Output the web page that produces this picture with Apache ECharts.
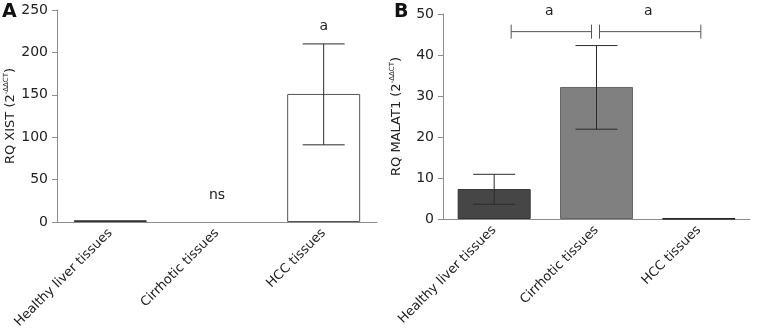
<!DOCTYPE html>
<html>
<head>
<meta charset="utf-8">
<script src="https://cdn.jsdelivr.net/npm/echarts@6/dist/echarts.min.js"></script>
<style>
  html, body { margin: 0; padding: 0; background: #fff; }
  #main { width: 757px; height: 332px; }
</style>
</head>
<body>
<div id="main"></div>
<script>
// 数据
var categories = ['Healthy liver tissues', 'Cirrhotic tissues', 'HCC tissues'];

// 面板 A: XIST
var xistMean = [2, 0, 151];
var xistLow = [2, 0, 91];
var xistHigh = [2, 0, 210];
var xistMarks = [[1, 'ns', 32], [2, 'a', 231]];
var xistTicks = [0, 50, 100, 150, 200, 250];

// 面板 B: MALAT1
var malatMean = [7.3, 32.2, 0.1];
var malatLow = [3.6, 21.9, 0.1];
var malatHigh = [10.9, 42.3, 0.1];
var malatBrackets = [[0, 1, 45.7, 'a'], [1, 2, 45.7, 'a']];
var malatTicks = [0, 10, 20, 30, 40, 50];

var FONT = 'DejaVu Sans';
var TXT = '#222';
var AXIS = '#8c8c8c';

var myChart = echarts.init(document.getElementById('main'));

function errData(low, high) {
    return low.map(function (v, i) { return [i, v, high[i]]; });
}

function errRender(params, api) {
    var lo = api.coord([api.value(0), api.value(1)]);
    var hi = api.coord([api.value(0), api.value(2)]);
    if (Math.abs(lo[1] - hi[1]) < 1) return null;
    var hw = 21;
    var st = { stroke: '#2a2a2a', lineWidth: 1 };
    return {
        type: 'group',
        children: [
            { type: 'line', shape: { x1: lo[0], y1: lo[1], x2: hi[0], y2: hi[1] }, style: st },
            { type: 'line', shape: { x1: hi[0] - hw, y1: hi[1], x2: hi[0] + hw, y2: hi[1] }, style: st },
            { type: 'line', shape: { x1: lo[0] - hw, y1: lo[1], x2: lo[0] + hw, y2: lo[1] }, style: st }
        ]
    };
}

function textRender(params, api) {
    var p = api.coord([api.value(0), api.value(2)]);
    return {
        type: 'text',
        x: p[0], y: p[1],
        style: {
            text: xistMarks[params.dataIndex][1],
            font: '14px "' + FONT + '"',
            fill: TXT, align: 'center', verticalAlign: 'middle'
        }
    };
}

// 括号两端的内缩像素
var bracketInset = [[17, 5], [3, -2]];

function bracketRender(params, api) {
    var b = malatBrackets[params.dataIndex];
    var p0 = api.coord([b[0], b[2]]);
    var p1 = api.coord([b[1], b[2]]);
    var ins = bracketInset[params.dataIndex];
    var x0 = p0[0] + ins[0], x1 = p1[0] - ins[1], y = p0[1];
    var st = { stroke: '#555', lineWidth: 1 };
    return {
        type: 'group',
        children: [
            { type: 'line', shape: { x1: x0, y1: y, x2: x1, y2: y }, style: st },
            { type: 'line', shape: { x1: x0, y1: y - 7, x2: x0, y2: y + 7 }, style: st },
            { type: 'line', shape: { x1: x1, y1: y - 7, x2: x1, y2: y + 7 }, style: st },
            {
                type: 'text', x: (x0 + x1) / 2 - 2, y: y - 20,
                style: { text: b[3], font: '14px "' + FONT + '"', fill: TXT, align: 'center', verticalAlign: 'middle' }
            }
        ]
    };
}

function xAxis(gridIndex) {
    return {
        type: 'category', gridIndex: gridIndex, data: categories,
        axisLine: { lineStyle: { color: AXIS, width: 1 } },
        axisTick: { alignWithLabel: true, length: 5, lineStyle: { color: AXIS } },
        axisLabel: { rotate: 45, margin: 9, fontSize: 13, fontFamily: FONT, color: TXT, interval: 0 }
    };
}

function yAxis(gridIndex, ticks, name) {
    return {
        type: 'value', gridIndex: gridIndex,
        min: ticks[0], max: ticks[ticks.length - 1], interval: ticks[1] - ticks[0],
        name: name, nameLocation: 'middle', nameGap: 38, nameRotate: 90,
        nameTextStyle: {
            fontSize: 13, fontFamily: FONT, color: TXT,
            rich: { sup: { fontSize: 7, fontFamily: FONT, color: TXT, padding: [0, 0, 9, 0] } }
        },
        axisLine: { show: true, lineStyle: { color: AXIS, width: 1 } },
        axisTick: { show: true, length: 5, lineStyle: { color: AXIS } },
        axisLabel: { margin: 9, fontSize: 14, fontFamily: FONT, color: TXT },
        splitLine: { show: false }
    };
}

option = {
    animation: false,
    backgroundColor: '#fff',
    grid: [
        { left: 57, top: 10, width: 320, height: 212 },
        { left: 443, top: 14, width: 307, height: 205 }
    ],
    xAxis: [xAxis(0), xAxis(1)],
    yAxis: [
        yAxis(0, xistTicks, 'RQ XIST (2{sup|-ΔΔCT})'),
        yAxis(1, malatTicks, 'RQ MALAT1 (2{sup|-ΔΔCT})')
    ],
    graphic: [
        { type: 'text', left: 2, top: 3, style: { text: 'A', font: 'bold 19px "' + FONT + '"', fill: '#111' } },
        { type: 'text', left: 394, top: 3, style: { text: 'B', font: 'bold 19px "' + FONT + '"', fill: '#111' } }
    ],
    series: [
        {
            type: 'bar', xAxisIndex: 0, yAxisIndex: 0, barWidth: 73,
            data: [
                { value: xistMean[0], itemStyle: { color: '#333', borderColor: '#333', borderWidth: 1 } },
                { value: xistMean[1], itemStyle: { color: '#888' } },
                { value: xistMean[2], itemStyle: { color: '#fff', borderColor: '#555', borderWidth: 1 } }
            ]
        },
        {
            type: 'custom', xAxisIndex: 0, yAxisIndex: 0,
            data: errData(xistLow, xistHigh), renderItem: errRender, z: 5
        },
        {
            type: 'custom', xAxisIndex: 0, yAxisIndex: 0,
            data: xistMarks, renderItem: textRender, z: 5
        },
        {
            type: 'bar', xAxisIndex: 1, yAxisIndex: 1, barWidth: 73,
            data: [
                { value: malatMean[0], itemStyle: { color: '#464646', borderColor: '#333', borderWidth: 1 } },
                { value: malatMean[1], itemStyle: { color: '#808080', borderColor: '#666', borderWidth: 1 } },
                { value: malatMean[2], itemStyle: { color: '#111', borderColor: '#111', borderWidth: 1 } }
            ]
        },
        {
            type: 'custom', xAxisIndex: 1, yAxisIndex: 1,
            data: errData(malatLow, malatHigh), renderItem: errRender, z: 5
        },
        {
            type: 'custom', xAxisIndex: 1, yAxisIndex: 1,
            data: malatBrackets, renderItem: bracketRender, z: 5, clip: false
        }
    ]
};

if (option && typeof option === "object") {
    myChart.setOption(option, true);
}
</script>
</body>
</html>
